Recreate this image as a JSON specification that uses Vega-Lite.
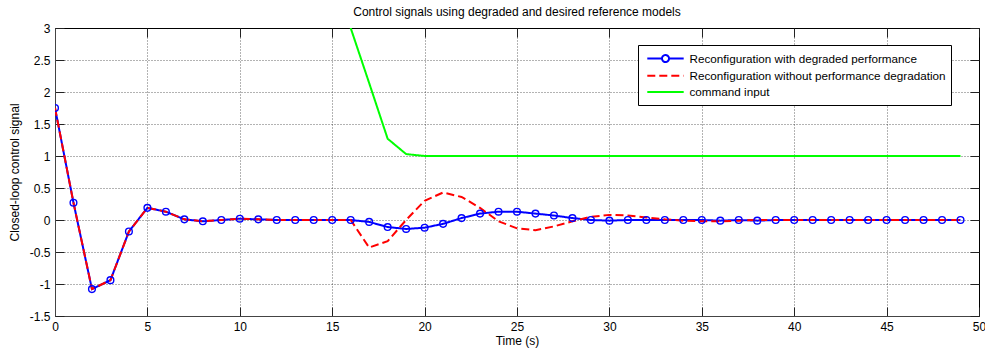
{
  "$schema": "https://vega.github.io/schema/vega-lite/v6.json",
  "width": 924,
  "height": 288,
  "autosize": {"type": "none"},
  "padding": {"left": 55, "top": 28, "right": 6, "bottom": 36},
  "background": "white",
  "title": {"text": "Control signals using degraded and desired reference models", "fontSize": 12, "fontWeight": "normal", "font": "Liberation Sans", "color": "#000", "offset": 3, "anchor": "middle"},
  "config": {
    "view": {"stroke": "#000", "strokeWidth": 1},
    "font": "Liberation Sans",
    "axis": {"labelFont": "Liberation Sans", "titleFont": "Liberation Sans", "labelFontSize": 12, "titleFontSize": 12, "titleFontWeight": "normal", "labelColor": "#000", "titleColor": "#000", "domainColor": "#444", "tickColor": "#222", "tickSize": -9, "labelFlush": false, "gridColor": "#000", "gridOpacity": 0.6, "gridDash": [1, 2], "gridWidth": 1}
  },
  "data": {"values": [
    {"t": 0, "v": 1.75, "s": "Reconfiguration with degraded performance"},
    {"t": 1, "v": 0.27, "s": "Reconfiguration with degraded performance"},
    {"t": 2, "v": -1.08, "s": "Reconfiguration with degraded performance"},
    {"t": 3, "v": -0.94, "s": "Reconfiguration with degraded performance"},
    {"t": 4, "v": -0.18, "s": "Reconfiguration with degraded performance"},
    {"t": 5, "v": 0.19, "s": "Reconfiguration with degraded performance"},
    {"t": 6, "v": 0.13, "s": "Reconfiguration with degraded performance"},
    {"t": 7, "v": 0.01, "s": "Reconfiguration with degraded performance"},
    {"t": 8, "v": -0.02, "s": "Reconfiguration with degraded performance"},
    {"t": 9, "v": 0.0, "s": "Reconfiguration with degraded performance"},
    {"t": 10, "v": 0.02, "s": "Reconfiguration with degraded performance"},
    {"t": 11, "v": 0.01, "s": "Reconfiguration with degraded performance"},
    {"t": 12, "v": 0.0, "s": "Reconfiguration with degraded performance"},
    {"t": 13, "v": 0.0, "s": "Reconfiguration with degraded performance"},
    {"t": 14, "v": 0.0, "s": "Reconfiguration with degraded performance"},
    {"t": 15, "v": 0.0, "s": "Reconfiguration with degraded performance"},
    {"t": 16, "v": 0.0, "s": "Reconfiguration with degraded performance"},
    {"t": 17, "v": -0.03, "s": "Reconfiguration with degraded performance"},
    {"t": 18, "v": -0.11, "s": "Reconfiguration with degraded performance"},
    {"t": 19, "v": -0.14, "s": "Reconfiguration with degraded performance"},
    {"t": 20, "v": -0.12, "s": "Reconfiguration with degraded performance"},
    {"t": 21, "v": -0.06, "s": "Reconfiguration with degraded performance"},
    {"t": 22, "v": 0.03, "s": "Reconfiguration with degraded performance"},
    {"t": 23, "v": 0.1, "s": "Reconfiguration with degraded performance"},
    {"t": 24, "v": 0.13, "s": "Reconfiguration with degraded performance"},
    {"t": 25, "v": 0.13, "s": "Reconfiguration with degraded performance"},
    {"t": 26, "v": 0.1, "s": "Reconfiguration with degraded performance"},
    {"t": 27, "v": 0.07, "s": "Reconfiguration with degraded performance"},
    {"t": 28, "v": 0.03, "s": "Reconfiguration with degraded performance"},
    {"t": 29, "v": 0.0, "s": "Reconfiguration with degraded performance"},
    {"t": 30, "v": -0.01, "s": "Reconfiguration with degraded performance"},
    {"t": 31, "v": 0.0, "s": "Reconfiguration with degraded performance"},
    {"t": 32, "v": 0.0, "s": "Reconfiguration with degraded performance"},
    {"t": 33, "v": 0.0, "s": "Reconfiguration with degraded performance"},
    {"t": 34, "v": 0.0, "s": "Reconfiguration with degraded performance"},
    {"t": 35, "v": 0.0, "s": "Reconfiguration with degraded performance"},
    {"t": 36, "v": -0.01, "s": "Reconfiguration with degraded performance"},
    {"t": 37, "v": 0.0, "s": "Reconfiguration with degraded performance"},
    {"t": 38, "v": -0.01, "s": "Reconfiguration with degraded performance"},
    {"t": 39, "v": 0.0, "s": "Reconfiguration with degraded performance"},
    {"t": 40, "v": 0.0, "s": "Reconfiguration with degraded performance"},
    {"t": 41, "v": 0.0, "s": "Reconfiguration with degraded performance"},
    {"t": 42, "v": 0.0, "s": "Reconfiguration with degraded performance"},
    {"t": 43, "v": 0.0, "s": "Reconfiguration with degraded performance"},
    {"t": 44, "v": 0.0, "s": "Reconfiguration with degraded performance"},
    {"t": 45, "v": 0.0, "s": "Reconfiguration with degraded performance"},
    {"t": 46, "v": 0.0, "s": "Reconfiguration with degraded performance"},
    {"t": 47, "v": 0.0, "s": "Reconfiguration with degraded performance"},
    {"t": 48, "v": 0.0, "s": "Reconfiguration with degraded performance"},
    {"t": 49, "v": 0.0, "s": "Reconfiguration with degraded performance"},
    {"t": 0, "v": 1.75, "s": "Reconfiguration without performance degradation"},
    {"t": 1, "v": 0.27, "s": "Reconfiguration without performance degradation"},
    {"t": 2, "v": -1.08, "s": "Reconfiguration without performance degradation"},
    {"t": 3, "v": -0.94, "s": "Reconfiguration without performance degradation"},
    {"t": 4, "v": -0.18, "s": "Reconfiguration without performance degradation"},
    {"t": 5, "v": 0.19, "s": "Reconfiguration without performance degradation"},
    {"t": 6, "v": 0.13, "s": "Reconfiguration without performance degradation"},
    {"t": 7, "v": 0.01, "s": "Reconfiguration without performance degradation"},
    {"t": 8, "v": -0.02, "s": "Reconfiguration without performance degradation"},
    {"t": 9, "v": 0.0, "s": "Reconfiguration without performance degradation"},
    {"t": 10, "v": 0.02, "s": "Reconfiguration without performance degradation"},
    {"t": 11, "v": 0.01, "s": "Reconfiguration without performance degradation"},
    {"t": 12, "v": 0.0, "s": "Reconfiguration without performance degradation"},
    {"t": 13, "v": 0.0, "s": "Reconfiguration without performance degradation"},
    {"t": 14, "v": 0.0, "s": "Reconfiguration without performance degradation"},
    {"t": 15, "v": 0.0, "s": "Reconfiguration without performance degradation"},
    {"t": 16, "v": 0.0, "s": "Reconfiguration without performance degradation"},
    {"t": 17, "v": -0.43, "s": "Reconfiguration without performance degradation"},
    {"t": 18, "v": -0.33, "s": "Reconfiguration without performance degradation"},
    {"t": 19, "v": 0.0, "s": "Reconfiguration without performance degradation"},
    {"t": 20, "v": 0.3, "s": "Reconfiguration without performance degradation"},
    {"t": 21, "v": 0.43, "s": "Reconfiguration without performance degradation"},
    {"t": 22, "v": 0.36, "s": "Reconfiguration without performance degradation"},
    {"t": 23, "v": 0.19, "s": "Reconfiguration without performance degradation"},
    {"t": 24, "v": -0.02, "s": "Reconfiguration without performance degradation"},
    {"t": 25, "v": -0.13, "s": "Reconfiguration without performance degradation"},
    {"t": 26, "v": -0.16, "s": "Reconfiguration without performance degradation"},
    {"t": 27, "v": -0.1, "s": "Reconfiguration without performance degradation"},
    {"t": 28, "v": -0.02, "s": "Reconfiguration without performance degradation"},
    {"t": 29, "v": 0.05, "s": "Reconfiguration without performance degradation"},
    {"t": 30, "v": 0.08, "s": "Reconfiguration without performance degradation"},
    {"t": 31, "v": 0.07, "s": "Reconfiguration without performance degradation"},
    {"t": 32, "v": 0.04, "s": "Reconfiguration without performance degradation"},
    {"t": 33, "v": 0.01, "s": "Reconfiguration without performance degradation"},
    {"t": 34, "v": -0.01, "s": "Reconfiguration without performance degradation"},
    {"t": 35, "v": -0.02, "s": "Reconfiguration without performance degradation"},
    {"t": 36, "v": -0.02, "s": "Reconfiguration without performance degradation"},
    {"t": 37, "v": -0.01, "s": "Reconfiguration without performance degradation"},
    {"t": 38, "v": 0.0, "s": "Reconfiguration without performance degradation"},
    {"t": 39, "v": 0.0, "s": "Reconfiguration without performance degradation"},
    {"t": 40, "v": 0.0, "s": "Reconfiguration without performance degradation"},
    {"t": 41, "v": 0.0, "s": "Reconfiguration without performance degradation"},
    {"t": 42, "v": 0.0, "s": "Reconfiguration without performance degradation"},
    {"t": 43, "v": 0.0, "s": "Reconfiguration without performance degradation"},
    {"t": 44, "v": 0.0, "s": "Reconfiguration without performance degradation"},
    {"t": 45, "v": 0.0, "s": "Reconfiguration without performance degradation"},
    {"t": 46, "v": 0.0, "s": "Reconfiguration without performance degradation"},
    {"t": 47, "v": 0.0, "s": "Reconfiguration without performance degradation"},
    {"t": 48, "v": 0.0, "s": "Reconfiguration without performance degradation"},
    {"t": 49, "v": 0.0, "s": "Reconfiguration without performance degradation"},
    {"t": 16, "v": 3.0, "s": "command input"},
    {"t": 17, "v": 2.14, "s": "command input"},
    {"t": 18, "v": 1.27, "s": "command input"},
    {"t": 19, "v": 1.03, "s": "command input"},
    {"t": 20, "v": 1.0, "s": "command input"},
    {"t": 21, "v": 1.0, "s": "command input"},
    {"t": 22, "v": 1.0, "s": "command input"},
    {"t": 23, "v": 1.0, "s": "command input"},
    {"t": 24, "v": 1.0, "s": "command input"},
    {"t": 25, "v": 1.0, "s": "command input"},
    {"t": 26, "v": 1.0, "s": "command input"},
    {"t": 27, "v": 1.0, "s": "command input"},
    {"t": 28, "v": 1.0, "s": "command input"},
    {"t": 29, "v": 1.0, "s": "command input"},
    {"t": 30, "v": 1.0, "s": "command input"},
    {"t": 31, "v": 1.0, "s": "command input"},
    {"t": 32, "v": 1.0, "s": "command input"},
    {"t": 33, "v": 1.0, "s": "command input"},
    {"t": 34, "v": 1.0, "s": "command input"},
    {"t": 35, "v": 1.0, "s": "command input"},
    {"t": 36, "v": 1.0, "s": "command input"},
    {"t": 37, "v": 1.0, "s": "command input"},
    {"t": 38, "v": 1.0, "s": "command input"},
    {"t": 39, "v": 1.0, "s": "command input"},
    {"t": 40, "v": 1.0, "s": "command input"},
    {"t": 41, "v": 1.0, "s": "command input"},
    {"t": 42, "v": 1.0, "s": "command input"},
    {"t": 43, "v": 1.0, "s": "command input"},
    {"t": 44, "v": 1.0, "s": "command input"},
    {"t": 45, "v": 1.0, "s": "command input"},
    {"t": 46, "v": 1.0, "s": "command input"},
    {"t": 47, "v": 1.0, "s": "command input"},
    {"t": 48, "v": 1.0, "s": "command input"},
    {"t": 49, "v": 1.0, "s": "command input"}
  ]},
  "resolve": {"axis": {"x": "independent", "y": "independent"}},
  "layer": [
    {
      "mark": {"type": "line", "strokeWidth": 2, "clip": true},
      "encoding": {
        "x": {"field": "t", "type": "quantitative", "scale": {"domain": [0, 50], "nice": false, "zero": false},
              "axis": {"title": "Time (s)", "values": [0, 5, 10, 15, 20, 25, 30, 35, 40, 45, 50], "grid": true, "labelPadding": 14, "titlePadding": 3, "labelExpr": "toString(datum.value)"}},
        "y": {"field": "v", "type": "quantitative", "scale": {"domain": [-1.5, 3], "nice": false, "zero": false},
              "axis": {"title": "Closed-loop control signal", "values": [-1.5, -1, -0.5, 0, 0.5, 1, 1.5, 2, 2.5, 3], "grid": true, "labelPadding": 14, "titlePadding": 8, "labelExpr": "toString(datum.value)"}},
        "color": {"field": "s", "type": "nominal",
                  "scale": {"domain": ["Reconfiguration with degraded performance", "Reconfiguration without performance degradation", "command input"], "range": ["#0000ff", "#ff0000", "#00ff00"]},
                  "legend": {"title": null, "orient": "none", "legendX": 583, "legendY": 17, "direction": "vertical",
                             "strokeColor": "#000", "fillColor": "#fff", "padding": 5.5, "cornerRadius": 0,
                             "labelFont": "Liberation Sans", "labelFontSize": 11.7, "labelColor": "#000", "labelLimit": 400,
                             "symbolSize": 196, "symbolStrokeWidth": 2, "symbolOffset": 14, "labelOffset": 16, "rowPadding": 1.3,
                             "encode": {"symbols": {"update": {
                               "shape": {"signal": "datum.value === 'Reconfiguration with degraded performance' ? 'M-2.6,0H-0.5M0.5,0H2.6M-0.5,0A0.5,0.5 0 1,0 0.5,0A0.5,0.5 0 1,0 -0.5,0' : 'M-2.6,0H2.6'"},
                               "strokeDash": {"signal": "datum.value === 'Reconfiguration without performance degradation' ? [8, 4] : [1, 0]"},
                               "fill": {"value": "transparent"},
                               "strokeWidth": {"value": 2}
                             }}}}},
        "strokeDash": {"field": "s", "type": "nominal",
                       "scale": {"domain": ["Reconfiguration with degraded performance", "Reconfiguration without performance degradation", "command input"], "range": [[1, 0], [8, 4], [1, 0]]},
                       "legend": null}
      }
    },
    {
      "transform": [{"filter": "datum.s === 'Reconfiguration with degraded performance'"}],
      "mark": {"type": "point", "shape": "circle", "filled": false, "color": "#0000ff", "size": 45, "strokeWidth": 1.4, "opacity": 1, "clip": true},
      "encoding": {
        "x": {"field": "t", "type": "quantitative", "axis": null},
        "y": {"field": "v", "type": "quantitative", "axis": null}
      }
    },
    {
      "mark": {"type": "point", "opacity": 0},
      "encoding": {
        "x": {"field": "t", "type": "quantitative", "axis": {"orient": "top", "values": [0, 5, 10, 15, 20, 25, 30, 35, 40, 45, 50], "labels": false, "grid": false, "domain": false, "title": null}},
        "y": {"field": "v", "type": "quantitative", "axis": {"orient": "right", "values": [-1.5, -1, -0.5, 0, 0.5, 1, 1.5, 2, 2.5, 3], "labels": false, "grid": false, "domain": false, "title": null}}
      }
    }
  ]
}
